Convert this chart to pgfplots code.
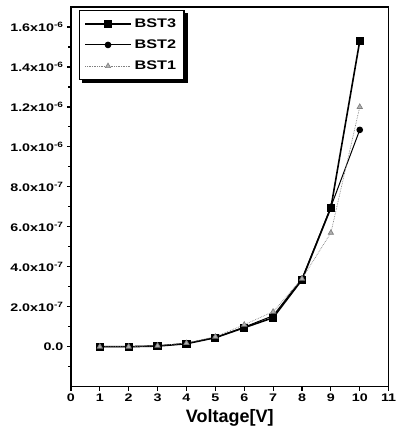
\documentclass[border=0pt]{standalone}
\usepackage{fontspec}
\setmainfont{Liberation Sans}
\newfontfamily\widefont{Liberation Sans}[FakeStretch=1.3]
\usepackage{graphicx}
\usepackage{pgfplots}
\pgfplotsset{compat=1.18}
\newcommand{\wide}[1]{\scalebox{1.3}[1]{\bfseries\fontsize{12.5}{14}\selectfont #1}}
\pgfplotsset{longlegend/.style={legend image code/.code={\draw[mark repeat=2,mark phase=2,##1] plot coordinates {(0cm,0cm) (0.8cm,0cm) (1.6cm,0cm)};}}}
\begin{document}
\begin{tikzpicture}
\begin{axis}[
  scale only axis,
  width=318pt, height=380pt,
  xmin=0, xmax=11, ymin=-2e-7, ymax=1.7e-6,
  xtick={0,1,...,11},
  ytick={0,2e-7,4e-7,6e-7,8e-7,1e-6,1.2e-6,1.4e-6,1.6e-6},
  minor ytick={-1e-7,1e-7,3e-7,5e-7,7e-7,9e-7,1.1e-6,1.3e-6,1.5e-6},
  yticklabels={0.0, 2.0x10\textsuperscript{-7}, 4.0x10\textsuperscript{-7}, 6.0x10\textsuperscript{-7}, 8.0x10\textsuperscript{-7}, 1.0x10\textsuperscript{-6}, 1.2x10\textsuperscript{-6}, 1.4x10\textsuperscript{-6}, 1.6x10\textsuperscript{-6}},
  scaled y ticks=false,
  /pgf/number format/assume math mode=true,
  tick label style={font=\widefont\bfseries\fontsize{11}{12}\selectfont},
  tick align=outside,
  xtick pos=bottom, ytick pos=left,
  major tick length=4pt, minor tick length=2.5pt,
  tick style={black, line width=1.2pt},
  axis line style={line width=1.6pt},
  xlabel={Voltage[V]},
  xlabel style={font=\bfseries\fontsize{18}{20}\selectfont, yshift=-1pt},
  legend style={at={(0.025,0.992)}, anchor=north west, draw=black, line width=1.2pt, fill=white,
    name=lgd, row sep=7pt, inner xsep=5pt, inner ysep=6pt,
    nodes={inner xsep=3pt}},
  legend cell align=left,
]
\addplot[longlegend, black, line width=1.6pt, mark=square*, mark size=3.3pt, mark options={solid}]
coordinates {(1,0) (2,0) (3,0.3e-8) (4,1.5e-8) (5,4.5e-8) (6,9.5e-8) (7,1.45e-7) (8,3.35e-7) (9,6.95e-7) (10,1.53e-6)};
\addlegendentry{\wide{BST3}}
\addplot[longlegend, black, line width=1pt, mark=*, mark size=2.8pt, mark options={solid}]
coordinates {(1,0) (2,0) (3,0.4e-8) (4,1.6e-8) (5,4.6e-8) (6,9.8e-8) (7,1.55e-7) (8,3.4e-7) (9,7.0e-7) (10,1.085e-6)};
\addlegendentry{\wide{BST2}}
\addplot[longlegend, gray, line width=0.7pt, densely dotted, mark=triangle*, mark size=3pt, mark options={solid, fill=gray!60, draw=gray}]
coordinates {(1,0) (2,0) (3,0.5e-8) (4,1.8e-8) (5,5.0e-8) (6,1.1e-7) (7,1.75e-7) (8,3.4e-7) (9,5.7e-7) (10,1.2e-6)};
\addlegendentry{\wide{BST1}}
\coordinate (ll) at (rel axis cs:0,0);
\coordinate (ur) at (rel axis cs:1,1);
\end{axis}
\ifcsname pgf@sh@ns@lgd\endcsname
  \fill[black] ([xshift=0.6pt,yshift=-3pt]lgd.north east) rectangle ([xshift=3.6pt,yshift=-3.6pt]lgd.south east);
  \fill[black] ([xshift=3pt,yshift=-0.6pt]lgd.south west) rectangle ([xshift=3.6pt,yshift=-3.6pt]lgd.south east);
\fi
\path ([xshift=-71pt,yshift=-43pt]ll) rectangle ([xshift=10pt,yshift=7pt]ur);
\end{tikzpicture}
\end{document}
